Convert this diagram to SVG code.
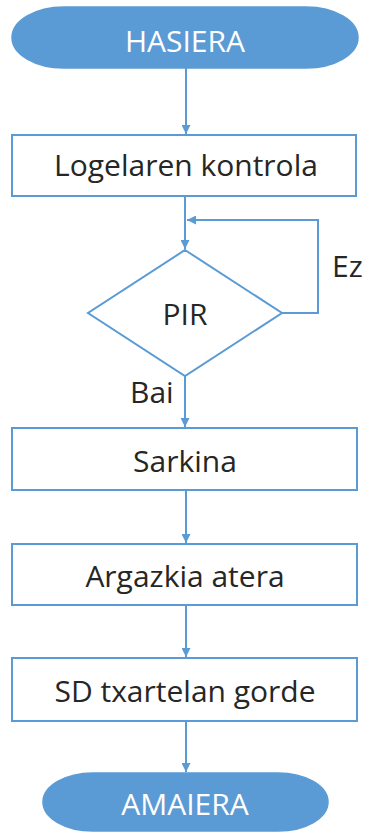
<svg xmlns="http://www.w3.org/2000/svg" width="366" height="832" viewBox="0 0 366 832">
  <defs>
    <marker id="arrow" viewBox="0 0 10 10" refX="10" refY="5" markerWidth="9" markerHeight="9" markerUnits="userSpaceOnUse" orient="auto">
      <path d="M0,0 L10,5 L0,10 z" fill="#5B9BD5"/>
    </marker>
    <style>
      .term { fill: #5B9BD5; stroke: #5B9BD5; stroke-width: 1.5; }
      .box { fill: #FFFFFF; stroke: #5B9BD5; stroke-width: 2; }
      .conn { fill: none; stroke: #5B9BD5; stroke-width: 2; }
      .lbl { font-family: "Open Sans", "Liberation Sans", sans-serif; font-size: 30px; fill: #262626; text-anchor: middle; }
      .tlbl { font-family: "Open Sans", "Liberation Sans", sans-serif; font-size: 30px; fill: #FFFFFF; text-anchor: middle; }
      .edge { font-family: "Open Sans", "Liberation Sans", sans-serif; font-size: 30px; fill: #262626; }
    </style>
  </defs>
  <rect width="366" height="832" fill="#FFFFFF"/>

  <g id="connectors">
    <path class="conn" d="M186,68 L186,134" marker-end="url(#arrow)"/>
    <path class="conn" d="M185,196 L185,249" marker-end="url(#arrow)"/>
    <path class="conn" d="M282,313 L318,313 L318,220 L187,220" marker-end="url(#arrow)"/>
    <path class="conn" d="M185,376 L185,427" marker-end="url(#arrow)"/>
    <path class="conn" d="M186,490 L186,543" marker-end="url(#arrow)"/>
    <path class="conn" d="M186,605 L186,657" marker-end="url(#arrow)"/>
    <path class="conn" d="M186,721 L186,772" marker-end="url(#arrow)"/>
    <text class="edge" x="332" y="277">Ez</text>
    <text class="edge" x="130" y="403">Bai</text>
  </g>

  <g id="hasiera">
    <rect class="term" x="12" y="7" width="346" height="61" rx="52" ry="30.5"/>
    <text class="tlbl" x="185" y="52">HASIERA</text>
  </g>

  <g id="logelaren-kontrola">
    <rect class="box" x="12" y="135" width="344" height="61"/>
    <text class="lbl" x="186" y="176">Logelaren kontrola</text>
  </g>

  <g id="pir">
    <polygon class="box" points="185,250 282,313 185,376 88,313"/>
    <text class="lbl" x="185" y="325">PIR</text>
  </g>

  <g id="sarkina">
    <rect class="box" x="12" y="428" width="345" height="62"/>
    <text class="lbl" x="185" y="472">Sarkina</text>
  </g>

  <g id="argazkia-atera">
    <rect class="box" x="12" y="544" width="345" height="61"/>
    <text class="lbl" x="185" y="587">Argazkia atera</text>
  </g>

  <g id="sd-txartelan-gorde">
    <rect class="box" x="12" y="658" width="345" height="63"/>
    <text class="lbl" x="185" y="702">SD txartelan gorde</text>
  </g>

  <g id="amaiera">
    <rect class="term" x="43" y="773" width="285" height="58" rx="50" ry="29"/>
    <text class="tlbl" x="185" y="815">AMAIERA</text>
  </g>
</svg>
